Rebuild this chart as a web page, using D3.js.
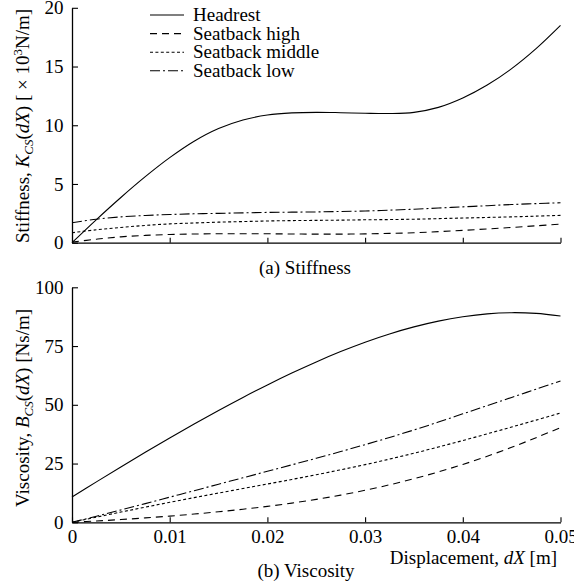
<!DOCTYPE html>
<html>
<head>
<meta charset="utf-8">
<script src="https://cdn.jsdelivr.net/npm/d3@7"></script>
<style>
  html, body { margin: 0; padding: 0; background: #fff; }
  svg { display: block; }
  text { font-family: "Liberation Serif", "Times New Roman", serif; fill: #000; }
</style>
</head>
<body>
<svg id="chart" width="574" height="586"></svg>
<script>
// ---- data ----
const dxValues = [0, 0.0025, 0.005, 0.0075, 0.01, 0.0125, 0.015, 0.0175, 0.02, 0.0225, 0.025,
                  0.0275, 0.03, 0.0325, 0.035, 0.0375, 0.04, 0.0425, 0.045, 0.0475, 0.05];
const seriesNames = ["Headrest", "Seatback high", "Seatback middle", "Seatback low"];

// Stiffness [x10^3 N/m]
const stiffHeadrest = [0, 1.97, 3.85, 5.62, 7.24, 8.64, 9.72, 10.45, 10.87, 11.05, 11.1,
                       11.07, 11.02, 11.0, 11.1, 11.52, 12.32, 13.42, 14.82, 16.52, 18.5];
const stiffHigh     = [0.05, 0.3, 0.5, 0.62, 0.7, 0.74, 0.76, 0.76, 0.76, 0.74, 0.73,
                       0.73, 0.75, 0.79, 0.85, 0.94, 1.05, 1.17, 1.3, 1.44, 1.58];
const stiffMiddle   = [0.85, 1.1, 1.3, 1.47, 1.6, 1.68, 1.75, 1.8, 1.85, 1.88, 1.9,
                       1.92, 1.95, 1.97, 2.0, 2.05, 2.1, 2.15, 2.2, 2.26, 2.33];
const stiffLow      = [1.7, 2.0, 2.2, 2.32, 2.4, 2.46, 2.5, 2.54, 2.58, 2.6, 2.62,
                       2.66, 2.7, 2.77, 2.85, 2.95, 3.05, 3.15, 3.25, 3.33, 3.4];

// Viscosity [Ns/m]
const viscHeadrest = [10.8, 17.2, 23.55, 29.8, 35.9, 41.85, 47.6, 53.15, 58.45, 63.5, 68.25,
                      72.65, 76.65, 80.15, 83.15, 85.6, 87.45, 88.7, 89.2, 88.9, 87.8];
const viscHigh     = [0, 0.56, 1.17, 1.87, 2.64, 3.51, 4.48, 5.57, 6.79, 8.17, 9.75,
                      11.57, 13.63, 15.95, 18.55, 21.44, 24.62, 28.11, 31.91, 36.01, 40.3];
const viscMiddle   = [0, 2.2, 4.35, 6.45, 8.5, 10.5, 12.45, 14.37, 16.29, 18.24, 20.24,
                      22.34, 24.54, 26.89, 29.39, 32.04, 34.79, 37.64, 40.54, 43.49, 46.49];
const viscLow      = [0, 2.6, 5.25, 7.95, 10.7, 13.45, 16.2, 18.95, 21.7, 24.45, 27.25,
                      30.1, 33.05, 36.1, 39.3, 42.65, 46.15, 49.65, 53.15, 56.65, 60.15];

const xTicks = [0, 0.01, 0.02, 0.03, 0.04, 0.05];
const xTickLabels = ["0", "0.01", "0.02", "0.03", "0.04", "0.05"];
const stiffTicks = [0, 5, 10, 15, 20];
const viscTicks = [0, 25, 50, 75, 100];

// ---- styles ----
const dashes = [null, "7,5", "3,2.4", "10,3,2,3"];
const FS = 19;

const svg = d3.select("#chart");

const x = d3.scaleLinear().domain([0, 0.05]).range([72, 560.5]);
const yS = d3.scaleLinear().domain([0, 20]).range([242.7, 7.8]);
const yV = d3.scaleLinear().domain([0, 100]).range([522.3, 287.3]);

function drawPanel(yScale, yTicks, seriesList, showXLabels) {
  const g = svg.append("g");
  const ya = g.append("g").attr("transform", `translate(${x(0)},0)`)
    .call(d3.axisLeft(yScale).tickValues(yTicks).tickSize(-6).tickSizeOuter(0).tickPadding(8.5)
      .tickFormat(d3.format("d")));
  const xa = g.append("g").attr("transform", `translate(0,${yScale(0)})`)
    .call(d3.axisBottom(x).tickValues(showXLabels ? xTicks : xTicks.slice(1)).tickSize(-5).tickSizeOuter(0)
      .tickPadding(7.5)
      .tickFormat(d => showXLabels ? xTickLabels[xTicks.indexOf(d)] : ""));
  [ya, xa].forEach(a => {
    a.selectAll("path.domain").attr("stroke", "#000").attr("stroke-width", 1.3);
    a.selectAll(".tick line").attr("stroke", "#000").attr("stroke-width", 1.1);
    a.selectAll("text").attr("font-size", FS).attr("font-family", "Liberation Serif").attr("fill", "#000");
  });

  const line = d3.line()
    .x((d, i) => x(dxValues[i]))
    .y(d => yScale(d))
    .curve(d3.curveCatmullRom.alpha(0.5));

  seriesList.forEach((vals, k) => {
    g.append("path")
      .datum(vals)
      .attr("d", line)
      .attr("fill", "none")
      .attr("stroke", "#000")
      .attr("stroke-width", 1.1)
      .attr("stroke-dasharray", dashes[k]);
  });
}

drawPanel(yS, stiffTicks, [stiffHeadrest, stiffHigh, stiffMiddle, stiffLow], false);
drawPanel(yV, viscTicks, [viscHeadrest, viscHigh, viscMiddle, viscLow], true);

// legend
const leg = svg.append("g");
const legY = [15, 33.6, 52.2, 70.8];
seriesNames.forEach((name, k) => {
  leg.append("line")
    .attr("x1", 150).attr("x2", 184)
    .attr("y1", legY[k]).attr("y2", legY[k])
    .attr("stroke", "#000").attr("stroke-width", 1.1)
    .attr("stroke-dasharray", dashes[k]);
  leg.append("text")
    .attr("x", 193).attr("y", legY[k]).attr("dy", "0.33em")
    .attr("font-size", FS).text(name);
});

// y titles
function yTitle(cx, cy, parts) {
  const t = svg.append("text")
    .attr("transform", `translate(${cx},${cy}) rotate(-90)`)
    .attr("text-anchor", "middle")
    .attr("font-size", FS);
  parts.forEach(p => {
    const ts = t.append("tspan").text(p.t);
    if (p.i) ts.attr("font-style", "italic");
    if (p.sub) ts.attr("font-size", 13).attr("dy", 4);
    if (p.unsub) ts.attr("dy", -4);
    if (p.sup) ts.attr("font-size", 13).attr("dy", -7);
    if (p.unsup) ts.attr("dy", 7);
  });
}
yTitle(29, 126, [
  {t: "Stiffness, "}, {t: "K", i: true}, {t: "CS", i: true, sub: true},
  {t: "(", unsub: true}, {t: "dX", i: true}, {t: ") [ \u00d7 10"}, {t: "3", sup: true}, {t: "N/m]", unsup: true}
]);
yTitle(29, 408, [
  {t: "Viscosity, "}, {t: "B", i: true}, {t: "CS", i: true, sub: true},
  {t: "(", unsub: true}, {t: "dX", i: true}, {t: ") [Ns/m]"}
]);

// x title
const xt = svg.append("text").attr("x", 557).attr("y", 564).attr("text-anchor", "end").attr("font-size", FS);
xt.append("tspan").text("Displacement, ");
xt.append("tspan").attr("font-style", "italic").text("dX");
xt.append("tspan").text(" [m]");

// panel captions
svg.append("text").attr("x", 305).attr("y", 274).attr("text-anchor", "middle").attr("font-size", FS).text("(a) Stiffness");
svg.append("text").attr("x", 306).attr("y", 577).attr("text-anchor", "middle").attr("font-size", FS).text("(b) Viscosity");
</script>
</body>
</html>
